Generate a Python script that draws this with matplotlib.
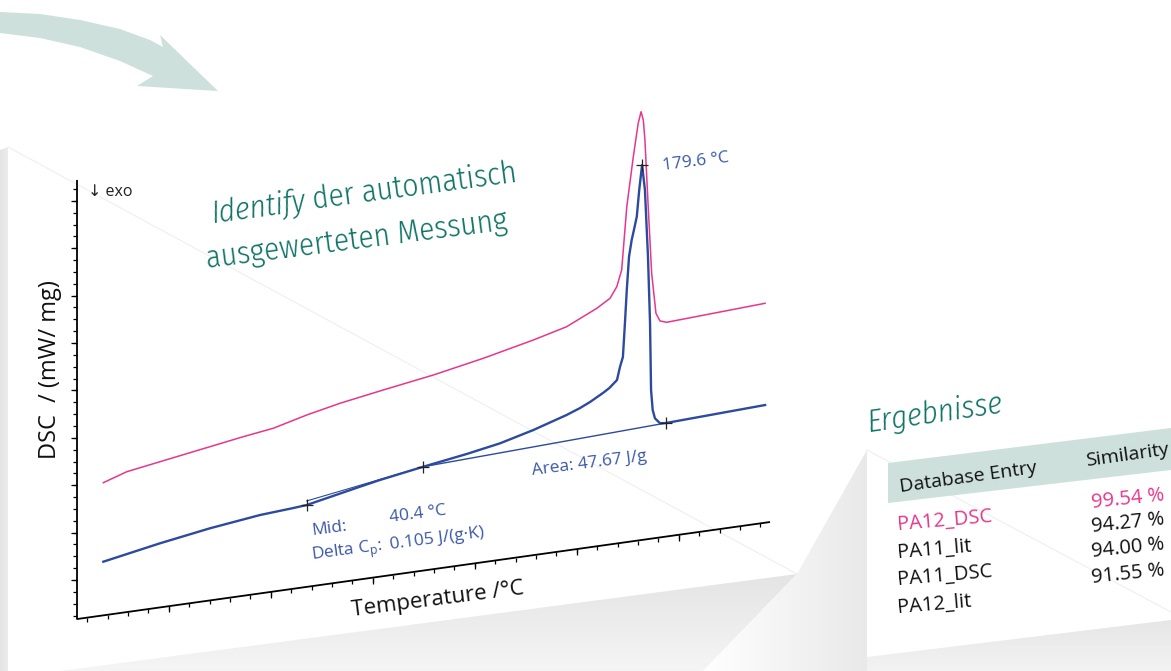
import numpy as np
import matplotlib
matplotlib.use("Agg")
import matplotlib.pyplot as plt
from matplotlib.patches import Polygon
from matplotlib.transforms import Affine2D
from matplotlib.colors import LinearSegmentedColormap
from matplotlib.markers import TICKLEFT, TICKDOWN

# --- measured DSC curves (temperature in degC, DSC in mW/mg, exo down) ---
pink_T = [-82.1, -70.6, -38.0, -13.5, 1.2, 17.6, 33.9, 55.1, 79.7, 104.2, 128.7, 145.0,
          159.8, 166.3, 169.6, 172.0, 174.5, 177.7, 180.1, 181.5, 182.6, 183.4, 185.0,
          186.7, 188.8, 190.8, 194.1, 242.3]
pink_d = [1.976, 2.138, 2.364, 2.533, 2.622, 2.803, 2.952, 3.105, 3.273, 3.478, 3.716, 3.898,
          4.197, 4.369, 4.594, 4.932, 6.252, 7.288, 7.978, 8.214, 8.033, 7.606, 6.189,
          4.774, 3.917, 3.743, 3.696, 3.806]

blue_T = [-82.1, -54.3, -29.8, -5.3, 11.0, 17.6, 43.7, 53.5, 74.8, 96.0, 112.4, 128.7, 145.0,
          151.6, 156.5, 162.8, 166.0, 169.7, 171.2, 172.6, 173.6, 174.5, 175.6, 176.9, 178.0,
          179.4, 180.6, 182.0, 183.4, 184.9, 185.9, 186.4, 187.2, 188.3, 190.8, 193.7, 242.3]
blue_d = [0.309, 0.530, 0.699, 0.831, 0.880, 0.904, 1.133, 1.216, 1.368, 1.508, 1.635, 1.817,
          2.036, 2.143, 2.241, 2.392, 2.480, 2.625, 2.897, 3.093, 3.804, 4.495, 5.191, 5.535,
          5.740, 6.012, 6.568, 7.087, 6.551, 5.129, 3.730, 2.314, 1.887, 1.705, 1.585, 1.573,
          1.660]

# evaluation points (+) and constructions
eval_T = [17.6, 74.8, 182.0, 193.7]
eval_d = [0.904, 1.368, 7.087, 1.573]
tangent_T = [17.6, 74.8]
tangent_d = [0.99, 1.368]
baseline_T = [74.8, 193.7]
baseline_d = [1.368, 1.573]

T_MIN, T_MAX = -95, 244.7
D_MIN, D_MAX = -0.823, 8.44

# results table
entries = ["PA12_DSC", "PA11_lit", "PA11_DSC", "PA12_lit"]
similarity = ["99.54 %", "94.27 %", "94.00 %", "91.55 %"]

BLUE = "#2c4a9e"
BLUE_TXT = "#3b58a8"
PINK = "#e6378b"
TEAL = "#0f7366"
MINT = "#cde0dc"
BODY = ["Open Sans", "DejaVu Sans"]
COND = ["Fira Sans Condensed", "Roboto Condensed", "Asap Condensed",
        "Liberation Sans Narrow", "DejaVu Sans"]

W, H = 1171, 671
fig = plt.figure(figsize=(W / 100, H / 100), dpi=100)
ax = fig.add_axes([0, 0, 1, 1])
ax.axis("off")


def shade(verts, c0, c1, horizontal=False):
    poly = Polygon(verts, closed=True, fc="none", ec="none")
    ax.add_patch(poly)
    xs, ys = zip(*verts)
    g = np.linspace(0, 1, 256)
    grad = g[None, :] if horizontal else g[:, None]
    cmap = LinearSegmentedColormap.from_list("s", [c0, c1])
    im = ax.imshow(grad, cmap=cmap, extent=(min(xs), max(xs), max(ys), min(ys)),
                   aspect="auto", origin="upper", zorder=0, interpolation="bilinear")
    im.set_clip_path(poly)


# background "paper" shading
shade([(0, 150), (8, 147), (8, 671), (0, 671)], "#e4e4e4", "#ececec", horizontal=True)
shade([(60, 671), (797, 574), (703, 671)], "#e4e4e4", "#f5f5f5")
shade([(867, 450), (797, 574), (703, 671), (867, 671)], "#ffffff", "#e9e9e9", horizontal=True)
shade([(867, 657), (1171, 620), (1171, 671), (867, 671)], "#e6e6e6", "#f3f3f3")
ax.plot([8, 797], [147, 574], color="#efefef", lw=0.8, zorder=0.5)
ax.plot([867, 1171], [450, 612], color="#efefef", lw=0.8, zorder=0.5)

# curved arrow at top left
arrow = [(0, 12), (40, 14), (80, 20), (120, 29), (150, 40), (163, 47), (160, 35), (218, 91),
         (137, 86), (153, 76), (120, 61), (80, 47), (40, 38), (0, 33)]
ax.add_patch(Polygon(arrow, closed=True, fc=MINT, ec="none", zorder=1))

# skewed chart frame: (T, d) -> pixels
chart = Affine2D(np.array([[2.04, 0.0, 270.8],
                           [-0.2856, -47.4, 552.9],
                           [0.0, 0.0, 1.0]])) + ax.transData

ax.plot([T_MIN, T_MIN, T_MAX], [D_MAX, D_MIN, D_MIN], color="k", lw=1.3,
        transform=chart, zorder=3, solid_capstyle="butt")
yt = np.arange(-0.75, 8.26, 0.25)
ymaj = yt[np.isclose(yt % 1, 0)]
ax.plot(np.full(len(yt), T_MIN), yt, ls="none", marker=TICKLEFT, ms=2.6, mew=0.9,
        color="k", transform=chart, zorder=3)
ax.plot(np.full(len(ymaj), T_MIN), ymaj, ls="none", marker=TICKLEFT, ms=4.2, mew=0.9,
        color="k", transform=chart, zorder=3)
xt = np.arange(-90, 241, 10)
xmaj = xt[xt % 50 == 0]
ax.plot(xt, np.full(len(xt), D_MIN), ls="none", marker=TICKDOWN, ms=3.0, mew=0.9,
        color="k", transform=chart, zorder=3)
ax.plot(xmaj, np.full(len(xmaj), D_MIN), ls="none", marker=TICKDOWN, ms=4.5, mew=0.9,
        color="k", transform=chart, zorder=3)

ax.plot(pink_T, pink_d, color=PINK, lw=1.1, transform=chart, zorder=4)
ax.plot(baseline_T, baseline_d, color=BLUE, lw=1.0, transform=chart, zorder=4)
ax.plot(tangent_T, tangent_d, color=BLUE, lw=0.8, transform=chart, zorder=4)
ax.plot(blue_T, blue_d, color=BLUE, lw=1.7, transform=chart, zorder=5)
ax.plot(eval_T, eval_d, ls="none", marker="+", ms=8, mew=0.9, color="#222222",
        transform=chart, zorder=6)

ax.set_xlim(0, W)
ax.set_ylim(H, 0)


def put(x, y, s, rot=0, **kw):
    return ax.text(x, y, s, rotation=rot, rotation_mode="anchor", ha="left",
                   va="baseline", zorder=7, **kw)


def text_run(x, y, parts, rot, **kw):
    r = fig.canvas.get_renderer()
    th = np.deg2rad(rot)
    for s, extra in parts:
        opts = dict(kw, **extra)
        put(x, y, s, rot, **opts)
        probe = ax.text(0, 0, s, **opts)
        w = probe.get_window_extent(r).width
        probe.remove()
        x += w * np.cos(th)
        y -= w * np.sin(th)


# axis labels
put(88, 196, "\u2193 exo", family=BODY, fontsize=11.5, color="#222222")
ax.text(50, 370, "DSC  / (mW/ mg)", rotation=90, ha="center", va="center",
        family=BODY, fontsize=17, color="#111111")
put(352, 616, "Temperature /\u00b0C", 7.3, family=BODY, fontsize=16, color="#111111")

# heading
text_run(212, 223, [("Identify", dict(style="italic")), (" der automatisch", {})], 7.6,
         family=COND, weight=300, fontsize=22.5, color=TEAL)
put(207, 268, "ausgewerteten Messung", 7.3, family=COND, weight=300, fontsize=22.5,
    color=TEAL)

# evaluation annotations
ann = dict(family=BODY, fontsize=12.5, color=BLUE_TXT)
put(663, 170, "179.6 \u00b0C", 7, **ann)
put(532, 475, "Area: 47.67 J/g", 7.3, **ann)
put(312, 535, "Mid:", 7.5, **ann)
put(390, 522, "40.4 \u00b0C", 7.5, **ann)
put(312, 560, r"Delta C$_\mathregular{p}$:", 7.5, **ann)
put(390, 549, "0.105 J/(g\u00b7K)", 7.5, **ann)

# results table
put(868, 432, "Ergebnisse", 8.3, family=COND, weight=300, style="italic",
    fontsize=22.5, color=TEAL)
ax.add_patch(Polygon([(888, 463), (1171, 428), (1171, 470), (888, 503)], closed=True,
                     fc=MINT, ec="none", zorder=2))
tab = dict(family=BODY, fontsize=14, color="#111111")
put(900, 492, "Database Entry", 8, **tab)
put(1087, 466, "Similarity", 8, **tab)
name_y = [530, 558, 585, 613]
val_y = [508, 532, 557, 583]
for i, (name, val) in enumerate(zip(entries, similarity)):
    col = PINK if i == 0 else "#111111"
    put(898, name_y[i], name, 5, family=BODY, fontsize=14.5, color=col)
    put(1092, val_y[i], val, 6, family=BODY, fontsize=14.5, color=col)

fig.savefig("out.png", dpi=100)
